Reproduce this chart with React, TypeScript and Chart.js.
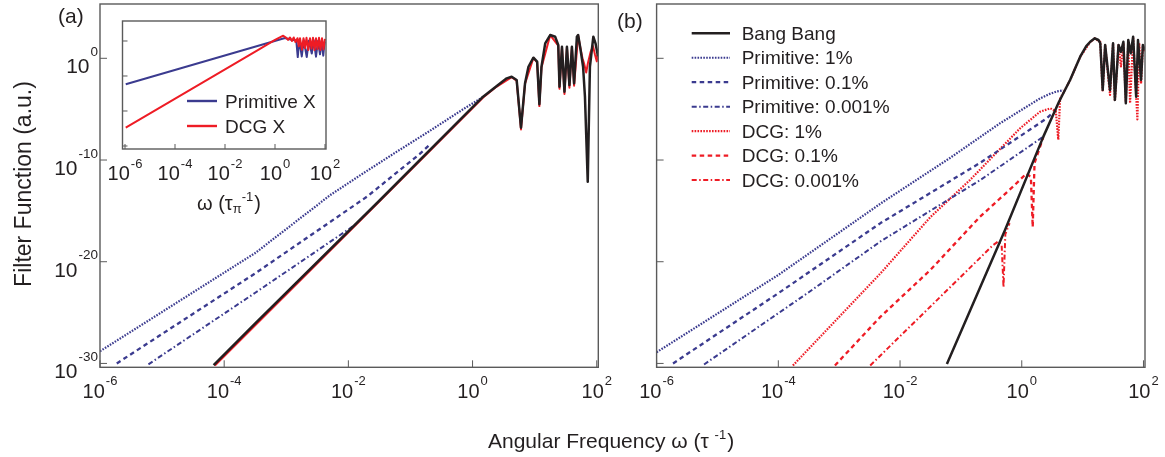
import React, { useEffect, useRef } from "react";
import { Chart, registerables } from "chart.js";

Chart.register(...registerables);

type Pair = [number, number];

// ---------------- tick labels (exponents of ten) ----------------
const xTickExponents = [-6, -4, -2, 0, 2];
const yTickExponents = [0, -10, -20, -30];
const insetXTickExponents = [-6, -4, -2, 0, 2];
const insetYTickExponents = [0, -10, -20, -30];

// ---------------- texts ----------------
const panelALabel = "(a)";
const panelBLabel = "(b)";
const yAxisTitle = "Filter Function (a.u.)";
const xAxisTitleMain = "Angular Frequency \u03c9 (\u03c4 ";
const xAxisTitleSup = "-1";
const xAxisTitleEnd = ")";
const insetTitleMain = "\u03c9 (\u03c4";
const insetTitleSub = "\u03c0";
const insetTitleSup = "-1";
const insetTitleEnd = ")";
const panelBSeriesNames = [
  "Bang Bang",
  "Primitive: 1%",
  "Primitive: 0.1%",
  "Primitive: 0.001%",
  "DCG: 1%",
  "DCG: 0.1%",
  "DCG: 0.001%",
];
const panelASeriesNames = ["Bang Bang", "DCG", "Primitive: 1%", "Primitive: 0.1%", "Primitive: 0.001%"];
const insetSeriesNames = ["Primitive X", "DCG X"];

// ---------------- data: [log10 ω, log10 F] ----------------
// Panel (a)
const aBangBang: Pair[] = [
  [-4.17, -30.16], [-3.5, -26.06], [-1.49, -13.93], [0.17, -3.77],
  [0.39, -2.72], [0.55, -1.97], [0.63, -1.81], [0.71, -2.13], [0.78, -6.82], [0.845, -2.46],
  [0.9, -0.83], [0.98, 0.06], [1.04, -0.33], [1.076, -4.52], [1.11, -0.83], [1.17, 1.47],
  [1.25, 2.29], [1.33, 2.12], [1.38, 1.31], [1.4, -2.79], [1.44, 1.14], [1.48, -3.28],
  [1.52, 1.14], [1.56, -2.63], [1.6, 1.14], [1.635, -2.46], [1.68, 2.12], [1.7, 2.29],
  [1.74, 0.82], [1.78, -0.83], [1.81, -3.77], [1.855, -12.13], [1.89, -0.83], [1.945, 2.12],
  [1.98, 1.47], [2.02, 0.2],
];
const aDCG: Pair[] = [
  [-4.15, -30.2], [-1.49, -14.02], [0.17, -3.85], [0.39, -2.78],
  [0.63, -1.85], [0.71, -2.2], [0.78, -7.0], [0.845, -2.5], [0.98, 0.04], [1.04, -0.4],
  [1.076, -4.7], [1.11, -0.9], [1.25, 2.27], [1.38, 1.25], [1.4, -3.0], [1.44, 1.1],
  [1.48, -3.5], [1.52, 1.1], [1.56, -2.9], [1.6, 1.1], [1.635, -2.7], [1.7, 2.25],
  [1.74, 0.9], [1.77, 0.0], [1.8, -0.6], [1.83, -1.4], [1.86, -0.4], [1.9, 0.6],
  [1.94, 1.2], [1.97, 0.4], [2.0, -0.3], [2.02, 0.6],
];
const aPrimitive1: Pair[] = [
  [-6, -28.8], [-3.5, -19.14], [-2.29, -13.44], [-1.76, -11.3], [-1.22, -9.18],
  [-0.685, -7.12], [-0.15, -5.0], [0.17, -3.8],
];
const aPrimitive01: Pair[] = [[-5.73, -30.0], [-3.5, -21.14], [-1.7, -13.6], [-0.85, -9.4], [-0.7, -8.55]];
const aPrimitive0001: Pair[] = [[-5.22, -30.09], [-3.5, -23.05], [-1.85, -16.2]];

// Panel (b)
const bBangBang: Pair[] = [
  [-1.23, -30.06], [-0.275, -16.88], [0.355, -7.7], [0.61, -4.3], [0.794, -2.13], [0.96, 0.16],
  [1.06, 1.2], [1.125, 1.63], [1.2, 1.97], [1.26, 1.8], [1.29, 1.5], [1.33, -3.12], [1.37, 1.31],
  [1.45, -3.12], [1.5, 1.47], [1.53, -4.1], [1.59, 1.31], [1.63, 0.65], [1.67, 1.63], [1.71, -4.42],
  [1.75, 1.8], [1.79, 0.49], [1.83, 2.12], [1.88, -3.77], [1.91, 1.8], [1.96, -2.13],
  [1.99, 1.31], [2.02, 0.8],
];
const bPrimitive1: Pair[] = [
  [-6, -28.9], [-4, -21.3], [-2.3, -14.2], [-1.18, -9.8], [-0.36, -6.4], [0.15, -4.5],
  [0.3, -3.95], [0.46, -3.5], [0.58, -3.25], [0.68, -3.15],
];
const bPrimitive01: Pair[] = [
  [-5.73, -30.0], [-4, -23.1], [-2.32, -16.2], [-0.69, -10.3], [0.137, -7.0], [0.41, -5.9], [0.52, -5.3],
];
const bPrimitive0001: Pair[] = [
  [-5.22, -30.1], [-3.5, -23.0], [-2.32, -18.0], [-0.69, -12.0], [0.137, -8.6], [0.355, -7.7],
];
const bDCG1: Pair[] = [
  [-3.76, -30.2], [-2.32, -21.14], [-1.5, -15.6], [-0.85, -11.96], [-0.03, -6.9], [0.3, -5.25],
  [0.47, -4.92], [0.56, -5.2], [0.6, -8.0], [0.63, -4.0], [0.794, -2.15], [0.96, 0.14],
  [1.125, 1.6], [1.2, 1.95], [1.29, 1.6], [1.33, -3.3], [1.37, 1.3], [1.45, -3.6],
  [1.5, 1.45], [1.53, -4.2], [1.59, 1.3], [1.63, -0.8], [1.67, 1.5], [1.71, -4.3],
  [1.75, 1.6], [1.78, -4.4], [1.83, 2.0], [1.9, -6.0], [1.93, 1.5], [1.96, -2.5],
  [1.99, 1.2], [2.02, 0.6],
];
const bDCG01: Pair[] = [
  [-3.07, -30.2], [-2.32, -25.4], [-1.5, -20.8], [-0.69, -15.6], [-0.14, -12.6], [0.08, -11.3],
  [0.15, -11.7], [0.18, -16.6], [0.21, -10.3], [0.355, -7.75],
];
const bDCG0001: Pair[] = [
  [-2.49, -30.2], [-1.5, -24.4], [-0.47, -18.36], [-0.385, -18.0], [-0.33, -18.4], [-0.3, -22.5],
  [-0.27, -17.3], [-0.2, -16.2],
];

// Inset
const insetPrimitiveX: Pair[] = [
  [-5.97, -12.37], [0.4, 0.86], [0.7, 0.3], [0.85, 0.2], [0.91, -4.6], [0.97, 0.3], [1.07, -4.4],
  [1.15, 0.2], [1.27, -4.6], [1.35, 0.1], [1.47, -3.6], [1.55, 0.2], [1.64, -4.5], [1.72, 0.0],
  [1.8, -3.8], [1.86, 0.0], [1.93, -4.2], [1.98, -0.5], [2.0, -0.2],
];
const insetDCGX: Pair[] = [
  [-5.97, -24.77], [-0.67, -2.57], [0.0, 0.3], [0.33, 1.51], [0.45, 0.9], [0.52, 0.29], [0.6, 1.0],
  [0.68, 0.0], [0.75, 1.0], [0.82, -0.3], [0.9, 0.8], [0.95, -1.5], [1.0, 0.8], [1.08, -2.5],
  [1.14, 0.8], [1.2, -2.0], [1.26, 0.9], [1.33, -2.6], [1.4, 0.8], [1.46, -2.2], [1.52, 0.9],
  [1.58, -2.6], [1.64, 0.8], [1.7, -2.3], [1.76, 0.9], [1.82, -2.6], [1.88, 0.8], [1.94, -2.4],
  [2.0, 0.6],
];

// ---------------- styling / layout ----------------
const W = 1165;
const H = 457;
const FONT = '"Liberation Sans", Arial, Helvetica, sans-serif';
const BLACK = "#231f20";
const BLUE = "#3b3b8f";
const RED = "#ee1c25";
const AXIS = "#5a5a5a";
const TEXT = "#231f20";
const SOLID: number[] = [];
const DOT = [1.6, 1.3];
const DASH = [4.5, 3.5];
const DASHDOT = [5, 2.5, 1.5, 2.5];

const mainXRange: Pair = [-6, 2.025];
const mainYRange: Pair = [-30.38, 5.34];
const insetXRange: Pair = [-6.1, 2.04];
const insetYRange: Pair = [-30.86, 5.71];

const pts = (arr: Pair[]) => arr.map(([lw, lf]) => ({ x: Math.pow(10, lw), y: Math.pow(10, lf) }));

function series(label: string, data: Pair[], color: string, dash: number[], width: number, order = 0) {
  return {
    label,
    data: pts(data),
    borderColor: color,
    backgroundColor: color,
    borderDash: dash,
    borderWidth: width,
    pointRadius: 0,
    pointHoverRadius: 0,
    fill: false,
    tension: 0,
    borderJoinStyle: "round",
    order,
  };
}

function drawPow(
  ctx: CanvasRenderingContext2D,
  exp: number,
  x: number,
  baseY: number,
  align: "center" | "right",
  big: number,
  small: number,
  rise: number
) {
  const base = "10";
  const sup = String(exp);
  ctx.font = `${big}px ${FONT}`;
  const w1 = ctx.measureText(base).width;
  ctx.font = `${small}px ${FONT}`;
  const w2 = ctx.measureText(sup).width;
  const total = w1 + 1 + w2;
  const left = align === "center" ? x - total / 2 : x - total;
  ctx.textAlign = "left";
  ctx.textBaseline = "alphabetic";
  ctx.font = `${big}px ${FONT}`;
  ctx.fillText(base, left, baseY);
  ctx.font = `${small}px ${FONT}`;
  ctx.fillText(sup, left + w1 + 1, baseY - rise);
}

type FrameCfg = {
  id: string;
  xTicks: number[];
  yTicks: number[];
  tickLen: number;
  frameWidth: number;
  xLabels: boolean;
  yLabels: boolean;
  xLabelDy: number;
  xBig: number;
  xSmall: number;
  xRise: number;
  fillWhite?: boolean;
  extra?: (chart: any, ctx: CanvasRenderingContext2D) => void;
};

function framePlugin(cfg: FrameCfg) {
  return {
    id: cfg.id,
    beforeDatasetsDraw(chart: any) {
      if (!cfg.fillWhite) return;
      const a = chart.chartArea;
      const ctx = chart.ctx;
      ctx.save();
      ctx.fillStyle = "#ffffff";
      ctx.fillRect(a.left, a.top, a.right - a.left, a.bottom - a.top);
      ctx.restore();
    },
    afterDraw(chart: any) {
      const ctx: CanvasRenderingContext2D = chart.ctx;
      const a = chart.chartArea;
      const xs = chart.scales.x;
      const ys = chart.scales.y;
      ctx.save();
      ctx.setLineDash([]);
      ctx.strokeStyle = AXIS;
      ctx.lineWidth = cfg.frameWidth;
      ctx.strokeRect(a.left, a.top, a.right - a.left, a.bottom - a.top);
      ctx.lineWidth = 1;
      ctx.beginPath();
      for (const e of cfg.xTicks) {
        const px = xs.getPixelForValue(Math.pow(10, e));
        ctx.moveTo(px, a.bottom);
        ctx.lineTo(px, a.bottom - cfg.tickLen);
      }
      for (const e of cfg.yTicks) {
        const py = ys.getPixelForValue(Math.pow(10, e));
        ctx.moveTo(a.left, py);
        ctx.lineTo(a.left + cfg.tickLen, py);
      }
      ctx.stroke();
      ctx.fillStyle = TEXT;
      if (cfg.xLabels) {
        for (const e of cfg.xTicks) {
          const px = xs.getPixelForValue(Math.pow(10, e));
          drawPow(ctx, e, px, a.bottom + cfg.xLabelDy, "center", cfg.xBig, cfg.xSmall, cfg.xRise);
        }
      }
      if (cfg.yLabels) {
        for (const e of cfg.yTicks) {
          const py = ys.getPixelForValue(Math.pow(10, e));
          drawPow(ctx, e, a.left - 2, py + 15, "right", 21, 13.5, 17.5);
        }
      }
      if (cfg.extra) cfg.extra(chart, ctx);
      ctx.restore();
    },
  };
}

function makeConfig(datasets: any[], xr: Pair, yr: Pair, padding: any, plugin: any) {
  return {
    type: "line",
    data: { datasets },
    options: {
      responsive: false,
      maintainAspectRatio: false,
      animation: false,
      events: [],
      layout: { padding },
      plugins: { legend: { display: false }, tooltip: { enabled: false }, title: { display: false } },
      scales: {
        x: { type: "logarithmic", min: Math.pow(10, xr[0]), max: Math.pow(10, xr[1]), display: false },
        y: { type: "logarithmic", min: Math.pow(10, yr[0]), max: Math.pow(10, yr[1]), display: false },
      },
    },
    plugins: [plugin],
  } as any;
}

function chartA() {
  const datasets = [
    series(panelASeriesNames[0], aBangBang, BLACK, SOLID, 2.5),
    series(panelASeriesNames[1], aDCG, RED, SOLID, 2),
    series(panelASeriesNames[2], aPrimitive1, BLUE, DOT, 2.2),
    series(panelASeriesNames[3], aPrimitive01, BLUE, DASH, 2.3),
    series(panelASeriesNames[4], aPrimitive0001, BLUE, DASHDOT, 2),
  ];
  const plugin = framePlugin({
    id: "frameA",
    xTicks: xTickExponents,
    yTicks: yTickExponents,
    tickLen: 7,
    frameWidth: 1.4,
    xLabels: true,
    yLabels: true,
    xLabelDy: 31,
    xBig: 20,
    xSmall: 13,
    xRise: 13.3,
    extra: (_chart, ctx) => {
      ctx.fillStyle = TEXT;
      ctx.textAlign = "left";
      ctx.textBaseline = "alphabetic";
      ctx.font = `21px ${FONT}`;
      ctx.fillText(panelALabel, 58, 23);
      // y title
      ctx.save();
      ctx.translate(31, 184);
      ctx.rotate(-Math.PI / 2);
      ctx.textAlign = "center";
      ctx.font = `23px ${FONT}`;
      ctx.fillText(yAxisTitle, 0, 0);
      ctx.restore();
      // x title
      ctx.textAlign = "left";
      ctx.font = `21px ${FONT}`;
      let x = 488;
      const by = 448.3;
      ctx.fillText(xAxisTitleMain, x, by);
      x += ctx.measureText(xAxisTitleMain).width;
      ctx.font = `13px ${FONT}`;
      ctx.fillText(xAxisTitleSup, x, by - 9);
      x += ctx.measureText(xAxisTitleSup).width + 1;
      ctx.font = `21px ${FONT}`;
      ctx.fillText(xAxisTitleEnd, x, by);
    },
  });
  return makeConfig(datasets, mainXRange, mainYRange, { left: 100, top: 4, right: W - 598.3, bottom: H - 367.3 }, plugin);
}

function chartB() {
  const datasets = [
    series(panelBSeriesNames[0], bBangBang, BLACK, SOLID, 2.5, 0),
    series(panelBSeriesNames[1], bPrimitive1, BLUE, DOT, 2.2, 1),
    series(panelBSeriesNames[2], bPrimitive01, BLUE, DASH, 2.3, 1),
    series(panelBSeriesNames[3], bPrimitive0001, BLUE, DASHDOT, 2, 1),
    series(panelBSeriesNames[4], bDCG1, RED, DOT, 2.2, 2),
    series(panelBSeriesNames[5], bDCG01, RED, DASH, 2.3, 2),
    series(panelBSeriesNames[6], bDCG0001, RED, DASHDOT, 2, 2),
  ];
  const plugin = framePlugin({
    id: "frameB",
    xTicks: xTickExponents,
    yTicks: yTickExponents,
    tickLen: 7,
    frameWidth: 1.4,
    xLabels: true,
    yLabels: false,
    xLabelDy: 31,
    xBig: 20,
    xSmall: 13,
    xRise: 13.3,
    extra: (chart, ctx) => {
      ctx.fillStyle = TEXT;
      ctx.textAlign = "left";
      ctx.textBaseline = "alphabetic";
      ctx.font = `21px ${FONT}`;
      ctx.fillText(panelBLabel, 617, 28);
      // legend
      const ds = chart.data.datasets;
      for (let i = 0; i < ds.length; i++) {
        const y = 33.3 + i * 24.45;
        ctx.save();
        ctx.strokeStyle = ds[i].borderColor;
        ctx.lineWidth = ds[i].borderWidth;
        ctx.setLineDash(ds[i].borderDash);
        ctx.beginPath();
        ctx.moveTo(691.7, y);
        ctx.lineTo(730, y);
        ctx.stroke();
        ctx.restore();
        ctx.fillStyle = TEXT;
        ctx.font = `19px ${FONT}`;
        ctx.fillText(ds[i].label, 741.7, y + 6.7);
      }
    },
  });
  return makeConfig(datasets, mainXRange, mainYRange, { left: 656.6, top: 4, right: W - 1145, bottom: H - 367.3 }, plugin);
}

function chartInset() {
  const datasets = [
    series(insetSeriesNames[0], insetPrimitiveX, BLUE, SOLID, 2, 1),
    series(insetSeriesNames[1], insetDCGX, RED, SOLID, 2, 0),
  ];
  const plugin = framePlugin({
    id: "frameInset",
    xTicks: insetXTickExponents,
    yTicks: insetYTickExponents,
    tickLen: 5,
    frameWidth: 1.4,
    xLabels: true,
    yLabels: false,
    xLabelDy: 31,
    xBig: 20,
    xSmall: 13,
    xRise: 12,
    fillWhite: true,
    extra: (chart, ctx) => {
      const ds = chart.data.datasets;
      const rows = [101, 126];
      for (let i = 0; i < ds.length; i++) {
        const y = rows[i];
        ctx.save();
        ctx.strokeStyle = ds[i].borderColor;
        ctx.lineWidth = 2.4;
        ctx.setLineDash([]);
        ctx.beginPath();
        ctx.moveTo(187, y);
        ctx.lineTo(217, y);
        ctx.stroke();
        ctx.restore();
        ctx.fillStyle = TEXT;
        ctx.textAlign = "left";
        ctx.textBaseline = "alphabetic";
        ctx.font = `19px ${FONT}`;
        ctx.fillText(ds[i].label, 225, y + 6.7);
      }
      // inset x title
      ctx.fillStyle = TEXT;
      let x = 197;
      const by = 210;
      ctx.font = `20px ${FONT}`;
      ctx.fillText(insetTitleMain, x, by);
      x += ctx.measureText(insetTitleMain).width;
      ctx.font = `13px ${FONT}`;
      ctx.fillText(insetTitleSub, x, by + 3);
      x += ctx.measureText(insetTitleSub).width;
      ctx.fillText(insetTitleSup, x, by - 9);
      x += ctx.measureText(insetTitleSup).width + 1;
      ctx.font = `20px ${FONT}`;
      ctx.fillText(insetTitleEnd, x, by);
    },
  });
  return makeConfig(datasets, insetXRange, insetYRange, { left: 122.5, top: 21, right: W - 326, bottom: H - 149 }, plugin);
}

function ChartLayer({ make }: { make: () => any }) {
  const ref = useRef<HTMLCanvasElement | null>(null);
  useEffect(() => {
    if (!ref.current) return;
    const chart = new Chart(ref.current, make());
    return () => chart.destroy();
  }, [make]);
  return (
    <canvas
      ref={ref}
      width={W}
      height={H}
      style={{ position: "absolute", left: 0, top: 0, width: W, height: H }}
    />
  );
}

export default function App() {
  return (
    <div
      style={{
        position: "fixed",
        left: 0,
        top: 0,
        width: W,
        height: H,
        background: "#ffffff",
        overflow: "hidden",
      }}
    >
      <ChartLayer make={chartA} />
      <ChartLayer make={chartB} />
      <ChartLayer make={chartInset} />
    </div>
  );
}
